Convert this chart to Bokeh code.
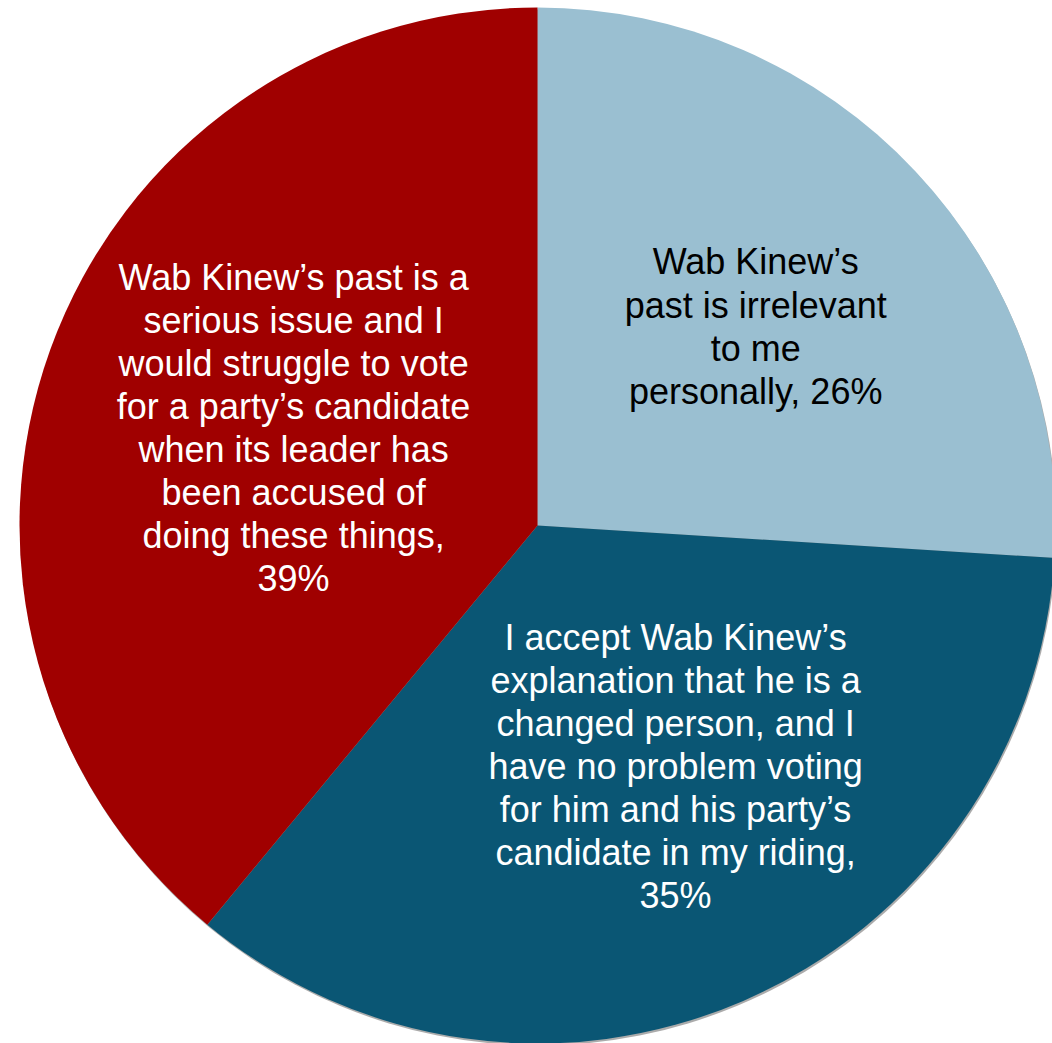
import math
from bokeh.plotting import figure
from bokeh.models import ColumnDataSource
from bokeh.core.properties import value
from bokeh.embed import file_html
from bokeh.resources import INLINE

# Data
categories = [
    "Wab Kinew\u2019s\npast is irrelevant\nto me\npersonally",
    "I accept Wab Kinew\u2019s\nexplanation that he is a\nchanged person, and I\nhave no problem voting\nfor him and his party\u2019s\ncandidate in my riding",
    "Wab Kinew\u2019s past is a\nserious issue and I\nwould struggle to vote\nfor a party\u2019s candidate\nwhen its leader has\nbeen accused of\ndoing these things",
]
shares = [26, 35, 39]
separators = [", ", ",\n", ",\n"]
colors = ["#9ABFD1", "#0A5674", "#A00000"]
text_colors = ["#000000", "#FFFFFF", "#FFFFFF"]

W, H = 1052, 1043
cx, cy, R = 537, 518, 518

total = sum(shares)
starts, ends = [], []
acc = 0.0
for s in shares:
    a0 = math.pi / 2 - 2 * math.pi * acc / total
    acc += s
    a1 = math.pi / 2 - 2 * math.pi * acc / total
    starts.append(a0)
    ends.append(a1)

labels = [f"{c}{sep}{s}%" for c, sep, s in zip(categories, separators, shares)]
label_r = [0.57, 0.536, 0.507]
label_ang_frac = [0.509, 0.449, 0.514]
lx, ly = [], []
for i in range(len(shares)):
    mid = starts[i] + (ends[i] - starts[i]) * label_ang_frac[i]
    lx.append(cx + label_r[i] * R * math.cos(mid))
    ly.append(cy + label_r[i] * R * math.sin(mid))

src = ColumnDataSource(dict(start=starts, end=ends, color=colors))
lsrc = ColumnDataSource(dict(x=lx, y=ly, text=labels, tc=text_colors))

p = figure(width=W, height=H, x_range=(0, W), y_range=(0, H),
           output_backend="svg", toolbar_location=None,
           min_border=0, outline_line_color=None)
p.axis.visible = False
p.grid.visible = False
p.background_fill_color = "white"

# subtle shadow ring
p.circle(x=cx + 1, y=cy - 2, radius=R, fill_color="#444444", fill_alpha=0.45,
         line_color=None)
p.wedge(x=cx, y=cy, radius=R, start_angle="start", end_angle="end",
        direction="clock", fill_color="color", line_color=None, source=src)

p.text(x="x", y="y", text="text", source=lsrc, text_color="tc",
       text_font=value("Liberation Sans"), text_font_size="36px",
       text_align="center", text_baseline="middle", text_line_height=1.05)

open("out.html", "w").write(file_html(p, INLINE))
